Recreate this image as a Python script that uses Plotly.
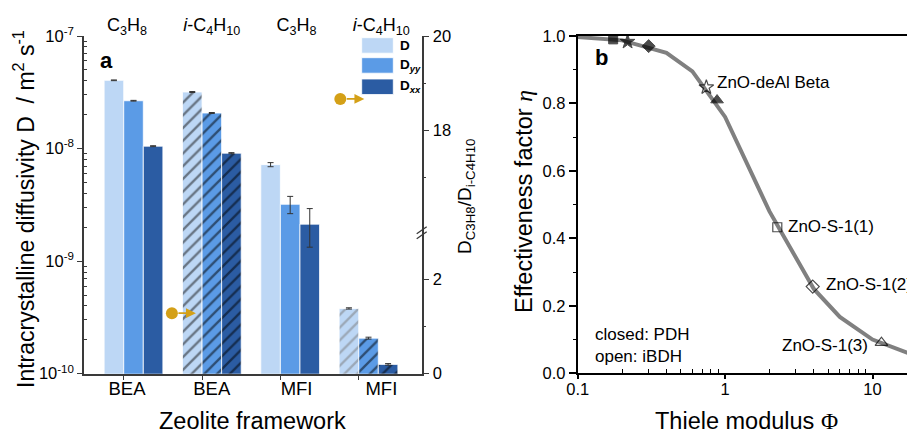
import numpy as np
import plotly.graph_objects as go

# ---------------- data: panel a ----------------
frameworks = ["BEA", "BEA", "MFI", "MFI"]
adsorbates = ["C<sub>3</sub>H<sub>8</sub>", "<i>i</i>-C<sub>4</sub>H<sub>10</sub>",
              "C<sub>3</sub>H<sub>8</sub>", "<i>i</i>-C<sub>4</sub>H<sub>10</sub>"]
D_vals = [4.04e-8, 3.18e-8, 7.2e-9, 3.8e-10]
D_err = [0.03e-8, 0.03e-8, 0.3e-9, 0.05e-10]
Dyy_vals = [2.66e-8, 2.07e-8, 3.2e-9, 2.07e-10]
Dyy_err = [0.02e-8, 0.02e-8, 0.56e-9, 0.04e-10]
Dxx_vals = [1.05e-8, 9.1e-9, 2.13e-9, 1.21e-10]
Dxx_err = [0.01e-8, 0.01e-8, 0.8e-9, 0.02e-10]
series_names = ["D", "D<sub><i>yy</i></sub>", "D<sub><i>xx</i></sub>"]

ratio_vals = [1.28, 18.67]          # D_C3H8 / D_i-C4H10 (BEA, MFI)
ratio_x = [0.49, 2.64]              # where the markers sit on the bar axis

ratio_ticks_major = [0, 2, 18, 20]
ratio_ticks_minor = [1, 17, 19]

# ---------------- data: panel b ----------------
phi_curve = [0.1, 0.2, 0.4, 0.6, 1.0, 2.0, 4.0, 6.0, 10.0, 20.0]
eta_curve = [0.997, 0.987, 0.95, 0.895, 0.76, 0.48, 0.25, 0.167, 0.10, 0.05]
phi_pdh = [0.174, 0.218, 0.303, 0.882]
eta_pdh = [0.990, 0.983, 0.970, 0.810]
phi_ibdh = [0.746, 2.26, 3.93, 11.5]
eta_ibdh = [0.848, 0.433, 0.257, 0.091]
labels_ibdh = ["ZnO-deAl Beta", "ZnO-S-1(1)", "ZnO-S-1(2)", "ZnO-S-1(3)"]

# ---------------- styles / layout constants ----------------
W, H = 907, 436
FONT = "Liberation Sans, Arial, sans-serif"
SERIF = "Liberation Serif, Times New Roman, serif"
bar_colors = ["#BDD7F5", "#5B9BE6", "#2B5CA3"]
hatch_fg = [["#111111", "#111111", "#111111", "#7a7a7a"],
            ["#000000", "#000000", "#000000", "#000000"],
            ["#000000", "#000000", "#000000", "#000000"]]
hatch_shape = ["", "/", "", "/"]
gold = "#D4A017"
axc = "#3a3a3a"
pdh_symbols = ["square", "star", "diamond", "triangle-up"]
ibdh_symbols = ["star-open", "square-open", "diamond-open", "triangle-up-open"]

def fx(p):
    return p / W

def fy(p):
    return 1 - p / H

# panel geometry (pixels)
A_L, A_R, A_T, A_B = 84.0, 421.7, 36.0, 373.7
B_L, B_R, B_T, B_B = 577.7, 907.0, 36.0, 373.3
xdomA = [fx(A_L), fx(A_R)]
ydomA = [fy(A_B), fy(A_T)]
xdomB = [fx(B_L), 1.0]
ydomB = [fy(B_B), fy(B_T)]

bar_range = [-0.632, 3.679]
label_range = [-0.507, 3.476]
bar_w = 0.25

# broken right axis: lower segment 0..brk_lo, upper segment up to 20
r_span = (A_B - A_T) / 47.3
top_val = 20.0
shift = top_val - r_span
brk_lo = 2.98

def rdisp(v):
    return v if v <= brk_lo + 1 else v - shift

fig = go.Figure()

vals = [D_vals, Dyy_vals, Dxx_vals]
errs = [D_err, Dyy_err, Dxx_err]
for k in range(3):
    fig.add_trace(go.Bar(
        x=list(range(len(frameworks))), y=vals[k], name=series_names[k],
        xaxis="x", yaxis="y",
        marker=dict(color=bar_colors[k], line=dict(color="white", width=0.8),
                    pattern=dict(shape=hatch_shape, fgcolor=hatch_fg[k],
                                 fillmode="overlay", size=9, solidity=0.26)),
        error_y=dict(type="data", array=errs[k], visible=True,
                     color="#333333", thickness=1, width=3),
        showlegend=False, hoverinfo="skip"))

# dummy traces for label axes
fig.add_trace(go.Scatter(x=[None], y=[None], xaxis="x3", yaxis="y", showlegend=False, hoverinfo="skip"))
fig.add_trace(go.Scatter(x=[None], y=[None], xaxis="x4", yaxis="y", showlegend=False, hoverinfo="skip"))

# ratio markers
fig.add_trace(go.Scatter(
    x=ratio_x, y=[rdisp(v) for v in ratio_vals], xaxis="x", yaxis="y2",
    mode="markers", marker=dict(color=gold, size=12, symbol="circle"),
    showlegend=False, hoverinfo="skip"))

# panel b
fig.add_trace(go.Scatter(
    x=phi_curve, y=eta_curve, xaxis="x2", yaxis="y3", mode="lines",
    line=dict(color="#808080", width=4), showlegend=False, hoverinfo="skip"))
fig.add_trace(go.Scatter(
    x=phi_pdh, y=eta_pdh, xaxis="x2", yaxis="y3", mode="markers",
    marker=dict(symbol=pdh_symbols, size=[9, 11, 10, 11], color="black",
                line=dict(color="black", width=1)),
    showlegend=False, hoverinfo="skip"))
fig.add_trace(go.Scatter(
    x=phi_ibdh, y=eta_ibdh, xaxis="x2", yaxis="y3", mode="markers",
    marker=dict(symbol=ibdh_symbols, size=[11, 9, 10, 11], color="black",
                line=dict(color="black", width=1.2)),
    showlegend=False, hoverinfo="skip"))

annotations = []
shapes = []

def note(x, y, text, size, xa="center", ya="middle", angle=0, **kw):
    d = dict(x=fx(x), y=fy(y), xref="paper", yref="paper", text=text, showarrow=False,
             xanchor=xa, yanchor=ya, textangle=angle,
             font=dict(family=FONT, size=size, color="black"))
    d.update(kw)
    annotations.append(d)

# ratio arrows
px_per_unit = (A_R - A_L) / (bar_range[1] - bar_range[0])
for rx, rv in zip(ratio_x, ratio_vals):
    annotations.append(dict(
        x=rx + 24 / px_per_unit, y=rdisp(rv), xref="x", yref="y2",
        ax=rx + 5 / px_per_unit, ay=rdisp(rv), axref="x", ayref="y2",
        showarrow=True, arrowhead=2, arrowsize=1.1, arrowwidth=1.8,
        arrowcolor=gold, text=""))

# break mark on right axis
brk_y = A_B - brk_lo * 47.3
for d in (-2.5, 2.5):
    shapes.append(dict(type="line", xref="paper", yref="paper",
                       x0=fx(A_R - 5), y0=fy(brk_y + d + 3.5),
                       x1=fx(A_R + 5), y1=fy(brk_y + d - 3.5),
                       line=dict(color=axc, width=1.3)))

# legend (manual)
leg_tops = [37.7, 57.7, 79.0]
for k in range(3):
    shapes.append(dict(type="rect", xref="paper", yref="paper",
                       x0=fx(361.7), x1=fx(393.3), y0=fy(leg_tops[k] + 15.5), y1=fy(leg_tops[k]),
                       fillcolor=bar_colors[k], line=dict(color="white", width=0.8)))
    note(397.5, leg_tops[k] + 8, "<b>" + series_names[k] + "</b>", 13.5, xa="left")

# panel letters
note(106, 60, "<b>a</b>", 22)
note(601, 58, "<b>b</b>", 22)

# axis titles
note(24, 209, "Intracrystalline diffusivity D  / m<sup>2</sup> s<sup>-1</sup>", 23, angle=-90)
note(252.5, 436, "Zeolite framework", 23.5, ya="bottom")
note(466, 196, "D<sub>C3H8</sub>/D<sub>i-C4H10</sub>", 19, angle=-90)
note(524, 202, "Effectiveness factor <i><span style='font-family:" + SERIF + "'>η</span></i>",
     23.5, angle=-90)
note(746, 436, "Thiele modulus <span style='font-family:" + SERIF + "'>Φ</span>", 23.5, ya="bottom")
note(593, 334, "closed: PDH", 17, xa="left")
note(593, 356, "open: iBDH", 17, xa="left")

# sample labels
lab_anchor = ["left", "left", "left", "right"]
lab_shift = [9, 9, 11, -11]
lab_yshift = [5, 1, 2, -3]
for t, p, e, a, s, ys in zip(labels_ibdh, phi_ibdh, eta_ibdh, lab_anchor, lab_shift, lab_yshift):
    annotations.append(dict(x=np.log10(p), y=e, xref="x2", yref="y3", text=t, showarrow=False,
                            xanchor=a, yanchor="middle", xshift=s, yshift=ys,
                            font=dict(family=FONT, size=17, color="black")))

tickfont = dict(family=FONT, size=16.5, color="black")

fig.update_layout(
    template="none",
    width=W, height=H, margin=dict(l=0, r=0, t=0, b=0, pad=0, autoexpand=False),
    paper_bgcolor="white", plot_bgcolor="white",
    barmode="group", bargap=0.25, bargroupgap=0,
    font=dict(family=FONT, color="black"),
    showlegend=False,
    xaxis=dict(domain=xdomA, anchor="y", range=bar_range, showgrid=False, zeroline=False,
               automargin=False,
               showline=True, linecolor=axc, linewidth=1.5,
               tickmode="array", tickvals=[i - bar_w / 2 for i in range(len(frameworks))],
               showticklabels=False, ticks="outside", ticklen=5, tickcolor=axc, tickwidth=1.3),
    xaxis3=dict(domain=xdomA, anchor="y", overlaying="x", side="bottom", range=label_range,
                automargin=False,
                showgrid=False, zeroline=False, showline=False, ticks="",
                tickmode="array", tickvals=list(range(len(frameworks))), ticktext=frameworks,
                tickfont=dict(family=FONT, size=18.5, color="black"), ticklabelstandoff=2),
    xaxis4=dict(domain=xdomA, anchor="y", overlaying="x", side="top", range=label_range,
                automargin=False,
                showgrid=False, zeroline=False, showline=False, ticks="",
                tickmode="array", tickvals=list(range(len(adsorbates))), ticktext=adsorbates,
                tickfont=dict(family=FONT, size=18, color="black"), ticklabelstandoff=0),
    yaxis=dict(domain=ydomA, anchor="x", type="log", range=[-10, -7], showgrid=False,
               automargin=False,
               zeroline=False, showline=True, linecolor=axc, linewidth=1.5,
               tickmode="array", tickvals=[1e-10, 1e-9, 1e-8, 1e-7],
               ticktext=["10<sup>-10</sup>", "10<sup>-9</sup>", "10<sup>-8</sup>", "10<sup>-7</sup>"],
               ticks="outside", ticklen=5, tickcolor=axc, tickwidth=1.3, tickfont=tickfont,
               minor=dict(ticks="inside", ticklen=3, tickcolor=axc, tickwidth=1,
                          tickmode="array",
                          tickvals=[m * 10.0 ** e for e in (-10, -9, -8) for m in range(2, 10)])),
    yaxis2=dict(domain=ydomA, anchor="x", overlaying="y", side="right", range=[0, r_span],
                automargin=False,
                showgrid=False, zeroline=False, showline=True, linecolor=axc, linewidth=1.5,
                tickmode="array", tickvals=[rdisp(v) for v in ratio_ticks_major],
                ticktext=[str(v) for v in ratio_ticks_major],
                ticks="outside", ticklen=6, tickcolor=axc, tickwidth=1.3, tickfont=tickfont,
                minor=dict(ticks="outside", ticklen=3, tickcolor=axc, tickwidth=1,
                           tickmode="array", tickvals=[rdisp(v) for v in ratio_ticks_minor])),
    xaxis2=dict(domain=xdomB, anchor="y3", type="log", automargin=False,
                range=[-1, -1 + (B_R - B_L) / 147.4], showgrid=False, zeroline=False,
                showline=True, linecolor="black", linewidth=2, mirror=True,
                tickmode="array", tickvals=[0.1, 1, 10], ticktext=["0.1", "1", "10"],
                ticks="outside", ticklen=4, tickcolor="black", tickwidth=1.5, tickfont=tickfont,
                ticklabelstandoff=-4,
                minor=dict(ticks="inside", ticklen=4, tickcolor="black", tickwidth=1.2,
                           tickmode="array",
                           tickvals=[m * 10.0 ** e for e in (-1, 0, 1) for m in range(2, 10)])),
    yaxis3=dict(domain=ydomB, anchor="x2", range=[0, 1], showgrid=False, zeroline=False,
                automargin=False,
                showline=True, linecolor="black", linewidth=2,
                tickmode="array", tickvals=[0, 0.2, 0.4, 0.6, 0.8, 1.0],
                ticktext=["0.0", "0.2", "0.4", "0.6", "0.8", "1.0"],
                ticks="outside", ticklen=7, tickcolor="black", tickwidth=1.5, tickfont=tickfont,
                minor=dict(ticks="outside", ticklen=3, tickcolor="black", tickwidth=1.2,
                           tickmode="array", tickvals=[0.1, 0.3, 0.5, 0.7, 0.9])),
    annotations=annotations,
    shapes=shapes,
)

fig.write_html("out.html")
